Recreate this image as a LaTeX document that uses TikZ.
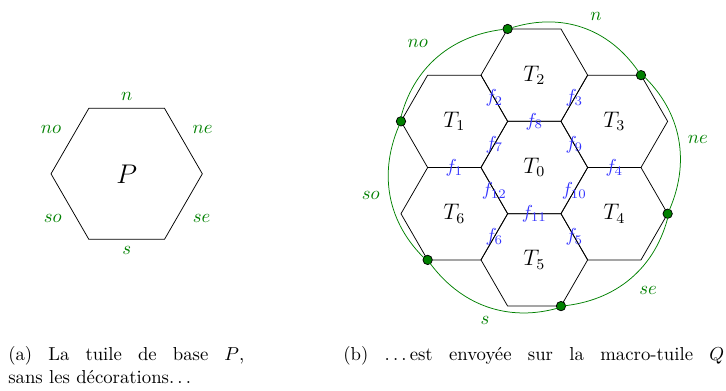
\documentclass[tikz,border=0pt]{standalone}
\usepackage{amsmath}
\usepackage{xcolor}
\usepackage{tikz}
\usetikzlibrary{shapes,calc}

\newcommand{\pdots}{.\kern1.67pt.\kern1.67pt.\kern1.67pt}

\begin{document}
\begin{tikzpicture}[
    tile/.style={draw, regular polygon, regular polygon sides=6, minimum size=2cm, inner sep=0pt, outer sep=0pt, font=\large},
    flab/.style={text=blue!80, inner sep=0pt},
    dlab/.style={text=green!50!black},
    vdot/.style={circle, draw=black, fill=green!50!black, inner sep=0pt, minimum size=5pt},
    rim/.style={green!50!black}
]
    \useasboundingbox (-10.018,-4.172) rectangle (3.594,3.141);

    % base tile P
    \node[tile, minimum size=2.837cm, font=\Large] (P) at (-7.643,-0.118) {$P$};
    \node[dlab] (Pn) at ($(P)+(0,1.446)$) {$n$};
    \node[dlab] (Pno) at ($(P)+(-1.418,0.834)$) {$no$};
    \node[dlab] (Pne) at ($(P)+(1.426,0.834)$) {$ne$};
    \node[dlab] (Pso) at ($(P)+(-1.387,-0.834)$) {$so$};
    \node[dlab] (Pse) at ($(P)+(1.407,-0.834)$) {$se$};
    \node[dlab] (Ps) at ($(P)+(0,-1.442)$) {$s$};

    % macro-tile Q
    \node[tile] (T0) at (0,0) {$T_0$};
    \node[tile] (T1) at (-1.5,0.866) {$T_1$};
    \node[tile] (T2) at (0,1.732) {$T_2$};
    \node[tile] (T3) at (1.5,0.866) {$T_3$};
    \node[tile] (T4) at (1.5,-0.866) {$T_4$};
    \node[tile] (T5) at (0,-1.732) {$T_5$};
    \node[tile] (T6) at (-1.5,-0.866) {$T_6$};

    % inner edges
    \node[flab] (f1) at ($(T1)!.5!(T6)$) {$f_1$};
    \node[flab] (f2) at ($(T1)!.5!(T2)$) {$f_2$};
    \node[flab] (f3) at ($(T2)!.5!(T3)$) {$f_3$};
    \node[flab] (f4) at ($(T3)!.5!(T4)$) {$f_4$};
    \node[flab] (f5) at ($(T4)!.5!(T5)$) {$f_5$};
    \node[flab] (f6) at ($(T5)!.5!(T6)$) {$f_6$};
    \node[flab] (f7) at ($(T0)!.5!(T1)$) {$f_7$};
    \node[flab] (f8) at ($(T0)!.5!(T2)$) {$f_8$};
    \node[flab] (f9) at ($(T0)!.5!(T3)$) {$f_9$};
    \node[flab] (f10) at ($(T0)!.5!(T4)$) {$f_{10}$};
    \node[flab] (f11) at ($(T0)!.5!(T5)$) {$f_{11}$};
    \node[flab] (f12) at ($(T0)!.5!(T6)$) {$f_{12}$};

    % corners of Q
    \node[vdot] (c1) at (T2.120) {};
    \node[vdot] (c2) at (T3.60) {};
    \node[vdot] (c3) at (T4.0) {};
    \node[vdot] (c4) at (T5.-60) {};
    \node[vdot] (c5) at (T6.-120) {};
    \node[vdot] (c6) at (T1.180) {};

    \draw[rim] (c1) to[bend left=36] (c2) to[bend left=36] (c3) to[bend left=36] (c4)
        to[bend left=36] (c5) to[bend left=36] (c6) to[bend left=36] (c1);

    \node[dlab] (ln) at (1.157,2.841) {$n$};
    \node[dlab] (lne) at (3.066,0.534) {$ne$};
    \node[dlab] (lno) at (-2.184,2.334) {$no$};
    \node[dlab] (lso) at (-3.066,-0.516) {$so$};
    \node[dlab] (lse) at (2.132,-2.297) {$se$};
    \node[dlab] (ls) at (-0.924,-2.86) {$s$};

    % captions
    \node[anchor=base west, inner sep=0pt, text width=125.9pt, align=justify] (capa) at (-9.869,-3.623)
        {(a) La tuile de base $P$,\linebreak sans les décorations\pdots};
    \node[anchor=base west, inner sep=0pt, text width=203.2pt, align=justify] (capb) at (-3.587,-3.623)
        {\parfillskip=0pt (b) \pdots est envoyée sur la macro-tuile $Q$\par};
\end{tikzpicture}
\end{document}
